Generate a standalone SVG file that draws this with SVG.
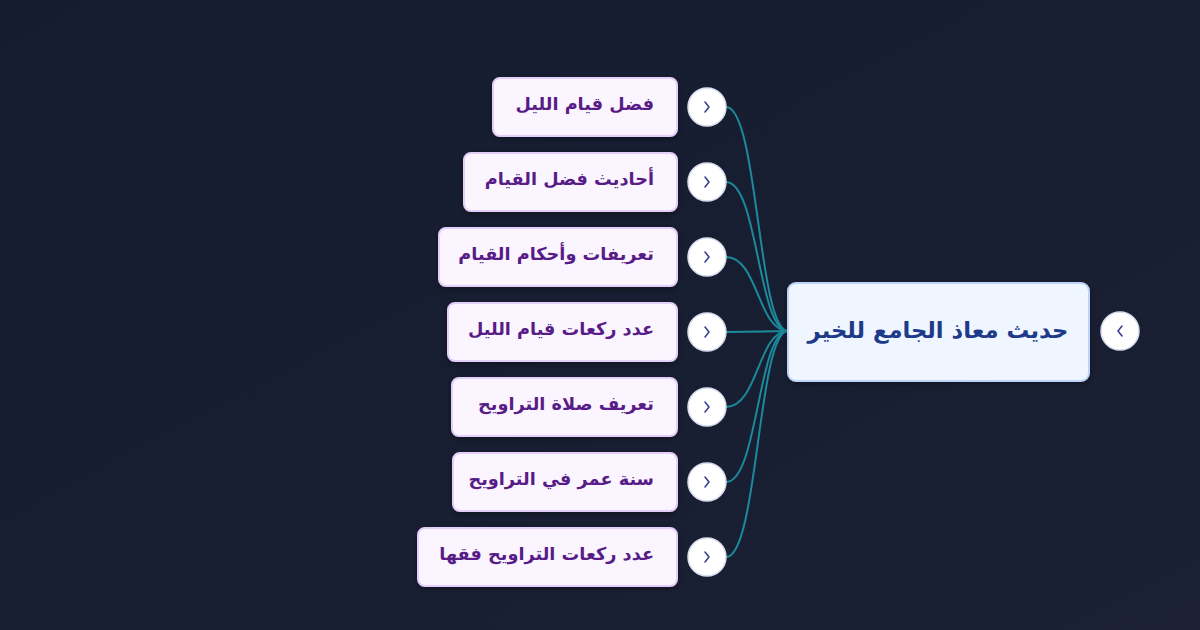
<svg xmlns="http://www.w3.org/2000/svg" width="1200" height="630" viewBox="0 0 1200 630">
<defs>
<linearGradient id="bg" x1="0" y1="0" x2="1" y2="1">
<stop offset="0" stop-color="#151c2f"/>
<stop offset="1" stop-color="#1b2034"/>
</linearGradient>
<filter id="sh" x="-20%" y="-20%" width="140%" height="160%">
<feDropShadow dx="0" dy="2" stdDeviation="3" flood-color="#000" flood-opacity="0.35"/>
</filter>
</defs>
<style>
.child rect{fill:#faf5ff;stroke:#e4cffb;stroke-width:2}
.child text{font-family:"DejaVu Sans",sans-serif;font-weight:bold;font-size:17.7px;fill:#581c87;text-anchor:end}
.btn circle{fill:#ffffff;stroke:#d8dcef;stroke-width:1.5}
.btn path{fill:none;stroke:#3b3f8f;stroke-width:1.6;stroke-linecap:round;stroke-linejoin:round}
.conn path{fill:none;stroke:#1a8a9c;stroke-width:2}
</style>
<rect width="1200" height="630" fill="url(#bg)"/>
<g id="connectors" class="conn">
<path d="M726,107 C758,107 758,331 788,331"/>
<path d="M726,182 C758,182 758,331 788,331"/>
<path d="M726,257 C758,257 758,331 788,331"/>
<path d="M726,332 L788,331"/>
<path d="M726,407 C758,407 758,331 788,331"/>
<path d="M726,482 C758,482 758,331 788,331"/>
<path d="M726,557 C758,557 758,331 788,331"/>
</g>
<g id="root">
<rect x="788" y="283" width="301" height="98" rx="8" fill="#eff6ff" stroke="#bcd4f7" stroke-width="2" filter="url(#sh)"/>
<text x="938" y="338" text-anchor="middle" font-family="DejaVu Sans, sans-serif" font-weight="bold" font-size="22.7" fill="#1e3a8a">حديث معاذ الجامع للخير</text>
<g class="btn"><circle cx="1120" cy="331" r="19"/><path d="M1122,326 L1118,331 L1122,336"/></g>
</g>
<g id="n1" class="child"><rect x="493" y="78" width="184" height="58" rx="7" filter="url(#sh)"/><text x="654" y="110">فضل قيام الليل</text>
<g class="btn"><circle cx="707" cy="107" r="19"/><path d="M705,102 L709,107 L705,112"/></g></g>
<g id="n2" class="child"><rect x="464" y="153" width="213" height="58" rx="7" filter="url(#sh)"/><text x="654" y="185">أحاديث فضل القيام</text>
<g class="btn"><circle cx="707" cy="182" r="19"/><path d="M705,177 L709,182 L705,187"/></g></g>
<g id="n3" class="child"><rect x="439" y="228" width="238" height="58" rx="7" filter="url(#sh)"/><text x="654" y="260">تعريفات وأحكام القيام</text>
<g class="btn"><circle cx="707" cy="257" r="19"/><path d="M705,252 L709,257 L705,262"/></g></g>
<g id="n4" class="child"><rect x="448" y="303" width="229" height="58" rx="7" filter="url(#sh)"/><text x="654" y="335">عدد ركعات قيام الليل</text>
<g class="btn"><circle cx="707" cy="332" r="19"/><path d="M705,327 L709,332 L705,337"/></g></g>
<g id="n5" class="child"><rect x="452" y="378" width="225" height="58" rx="7" filter="url(#sh)"/><text x="654" y="410">تعريف صلاة التراويح</text>
<g class="btn"><circle cx="707" cy="407" r="19"/><path d="M705,402 L709,407 L705,412"/></g></g>
<g id="n6" class="child"><rect x="453" y="453" width="224" height="58" rx="7" filter="url(#sh)"/><text x="654" y="485">سنة عمر في التراويح</text>
<g class="btn"><circle cx="707" cy="482" r="19"/><path d="M705,477 L709,482 L705,487"/></g></g>
<g id="n7" class="child"><rect x="418" y="528" width="259" height="58" rx="7" filter="url(#sh)"/><text x="654" y="560">عدد ركعات التراويح فقها</text>
<g class="btn"><circle cx="707" cy="557" r="19"/><path d="M705,552 L709,557 L705,562"/></g></g>
</svg>
